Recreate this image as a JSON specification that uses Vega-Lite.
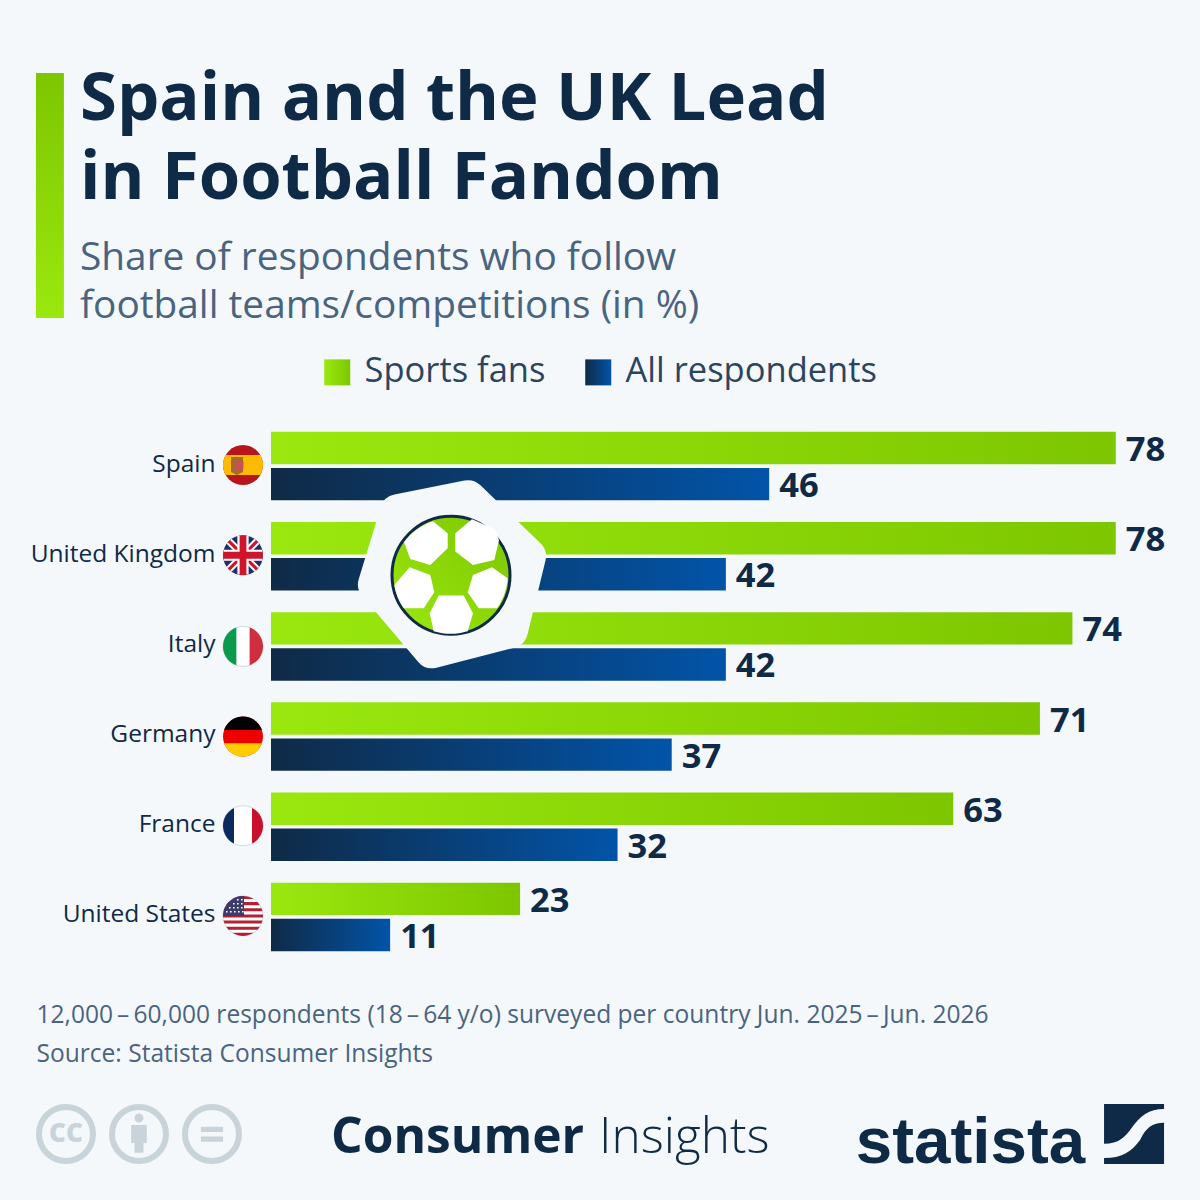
{
  "$schema": "https://vega.github.io/schema/vega-lite/v6.json",
  "description": "Spain and the UK lead in football fandom",
  "width": 929,
  "height": 541,
  "autosize": "none",
  "padding": {"left": 271, "top": 421, "right": 0, "bottom": 238},
  "background": "#f5f8fb",
  "config": {"view": {"stroke": null}, "font": "Open Sans"},
  "title": {
    "text": ["Spain and the UK Lead", "in Football Fandom"],
    "subtitle": ["Share of respondents who follow", "football teams/competitions (in %)"],
    "anchor": "start",
    "frame": "group",
    "dx": -191,
    "dy": 254,
    "offset": 0,
    "font": "Open Sans",
    "fontSize": 67,
    "fontWeight": 700,
    "lineHeight": 79,
    "color": "#0f2a46",
    "subtitleFont": "Open Sans",
    "subtitleFontSize": 38.8,
    "subtitleLineHeight": 48,
    "subtitleColor": "#4a6480",
    "subtitlePadding": 26
  },
  "layer": [
    {
      "data": {
        "values": [
          {"country": "Spain", "group": "Sports fans", "value": 78},
          {"country": "Spain", "group": "All respondents", "value": 46},
          {"country": "United Kingdom", "group": "Sports fans", "value": 78},
          {"country": "United Kingdom", "group": "All respondents", "value": 42},
          {"country": "Italy", "group": "Sports fans", "value": 74},
          {"country": "Italy", "group": "All respondents", "value": 42},
          {"country": "Germany", "group": "Sports fans", "value": 71},
          {"country": "Germany", "group": "All respondents", "value": 37},
          {"country": "France", "group": "Sports fans", "value": 63},
          {"country": "France", "group": "All respondents", "value": 32},
          {"country": "United States", "group": "Sports fans", "value": 23},
          {"country": "United States", "group": "All respondents", "value": 11}
        ]
      },
      "encoding": {
        "y": {
          "field": "country",
          "type": "nominal",
          "sort": null,
          "scale": {"domain": ["Spain", "United Kingdom", "Italy", "Germany", "France", "United States"], "paddingInner": 0.24, "paddingOuter": 0.12},
          "axis": {"title": null, "domain": false, "ticks": false, "labelFontSize": 24.5, "labelColor": "#0f2a46", "labelPadding": 56, "labelOffset": -1.5, "labelFont": "Open Sans", "labelLimit": 300}
        },
        "yOffset": {
          "field": "group",
          "type": "nominal",
          "scale": {"domain": ["Sports fans", "All respondents"], "paddingInner": 0.1, "paddingOuter": 0}
        },
        "x": {
          "field": "value",
          "type": "quantitative",
          "scale": {"domain": [0, 85.78], "nice": false},
          "axis": {
            "title": ["12,000\u2009\u2013\u200960,000 respondents (18\u2009\u2013\u200964 y/o) surveyed per country Jun. 2025\u2009\u2013\u2009Jun. 2026", "Source: Statista Consumer Insights"],
            "labels": false,
            "ticks": false,
            "domain": false,
            "grid": false,
            "titleAnchor": "start",
            "titleAlign": "left",
            "titleBaseline": "top",
            "titleX": -235,
            "titleY": 41,
            "titleFont": "Open Sans",
            "titleFontSize": 24.55,
            "titleFontWeight": 400,
            "titleColor": "#4a6480",
            "titleLineHeight": 39
          }
        }
      },
      "layer": [
        {
          "mark": {"type": "point", "opacity": 0, "filled": true},
          "encoding": {
            "shape": {
              "field": "group",
              "type": "nominal",
              "scale": {"domain": ["Sports fans", "All respondents"], "range": ["square", "square"]},
              "legend": {
                "title": null,
                "orient": "none",
                "legendX": 49,
                "legendY": -66,
                "direction": "horizontal",
                "columns": 2,
                "symbolSize": 676,
                "labelFont": "Open Sans",
                "labelFontSize": 34.5,
                "labelColor": "#2b4560",
                "labelOffset": 10,
                "labelLimit": 300,
                "columnPadding": 35,
                "encoding": {
                  "symbols": {
                    "opacity": {"value": 1},
                    "strokeWidth": {"value": 0},
                    "fill": {
                      "condition": {
                        "test": "datum.value === 'Sports fans'",
                        "value": {"gradient": "linear", "x1": 0, "y1": 0, "x2": 1, "y2": 0, "stops": [{"offset": 0, "color": "#9ae80f"}, {"offset": 1, "color": "#7dc600"}]}
                      },
                      "value": {"gradient": "linear", "x1": 0, "y1": 0, "x2": 1, "y2": 0, "stops": [{"offset": 0, "color": "#0f2a46"}, {"offset": 1, "color": "#0254a8"}]}
                    }
                  }
                }
              }
            }
          }
        },
        {
          "transform": [{"filter": "datum.group === 'Sports fans'"}],
          "mark": {"type": "bar", "color": {"gradient": "linear", "x1": 0, "y1": 0, "x2": 1, "y2": 0, "stops": [{"offset": 0, "color": "#9ae80f"}, {"offset": 1, "color": "#7dc600"}]}}
        },
        {
          "transform": [{"filter": "datum.group === 'All respondents'"}],
          "mark": {"type": "bar", "color": {"gradient": "linear", "x1": 0, "y1": 0, "x2": 1, "y2": 0, "stops": [{"offset": 0, "color": "#0f2a46"}, {"offset": 1, "color": "#0254a8"}]}}
        },
        {
          "mark": {"type": "text", "align": "left", "baseline": "middle", "dx": 10, "dy": 3, "fontSize": 34.5, "fontWeight": 700, "color": "#0f2a46", "font": "Open Sans"},
          "encoding": {"text": {"field": "value", "type": "quantitative"}}
        }
      ]
    },
    {
      "data": {"values": [{"item": "decor"}]},
      "encoding": {"x": {"datum": -20.41, "type": "quantitative"}, "y": {"datum": "Spain", "type": "nominal", "title": null}},
      "mark": {
        "type": "point",
        "shape": "M-.114 -1H.114V1H-.114Z",
        "size": 60025,
        "filled": true,
        "opacity": 1,
        "strokeWidth": 0,
        "yOffset": -270.5,
        "fill": {"gradient": "linear", "x1": 0, "y1": 0, "x2": 0, "y2": 1, "stops": [{"offset": 0, "color": "#7dc600"}, {"offset": 1, "color": "#9ae80f"}]}
      }
    },
    {
      "data": {"values": [{"country": "Spain"}]},
      "encoding": {"x": {"datum": -2.585, "type": "quantitative"}, "y": {"field": "country", "type": "nominal", "title": null}},
      "layer": [
        {"mark": {"type": "point", "shape": "circle", "size": 1600, "filled": true, "opacity": 1, "fill": "#b5151b", "strokeWidth": 0, "yOffset": -1}},
        {"mark": {"type": "point", "shape": "M-.866 -.5L.866 -.5A1 1 0 0 1 .866 .5L-.866 .5A1 1 0 0 1 -.866 -.5Z", "size": 1600, "filled": true, "opacity": 1, "fill": "#fcbb00", "strokeWidth": 0, "yOffset": -1}},
        {"mark": {"type": "point", "shape": "M-.6 -.4H0V.35L-.3 .5L-.6 .35Z", "size": 1600, "filled": true, "opacity": 1, "fill": "#a9682e", "strokeWidth": 0, "yOffset": -1}},
        {"mark": {"type": "point", "shape": "M-.35 -.2H.02V.2H-.35Z", "size": 1600, "filled": true, "opacity": 1, "fill": "#c8505a", "strokeWidth": 0, "yOffset": -1}}
      ]
    },
    {
      "data": {"values": [{"country": "United Kingdom"}]},
      "encoding": {"x": {"datum": -2.585, "type": "quantitative"}, "y": {"field": "country", "type": "nominal", "title": null}},
      "layer": [
        {"mark": {"type": "point", "shape": "circle", "size": 1600, "filled": true, "opacity": 1, "fill": "#1f2f6b", "strokeWidth": 0, "yOffset": -1}},
        {"mark": {"type": "point", "shape": "M-.82 -.57L-.57 -.82L.82 .57L.57 .82ZM.82 -.57L.57 -.82L-.82 .57L-.57 .82Z", "size": 1600, "filled": true, "opacity": 1, "fill": "#ffffff", "strokeWidth": 0, "yOffset": -1}},
        {"mark": {"type": "point", "shape": "M-.76 -.65L-.65 -.76L.76 .65L.65 .76ZM.76 -.65L.65 -.76L-.76 .65L-.65 .76Z", "size": 1600, "filled": true, "opacity": 1, "fill": "#cf142b", "strokeWidth": 0, "yOffset": -1}},
        {"mark": {"type": "point", "shape": "M-.28 -.96L.28 -.96L.28 -.28L.96 -.28L.96 .28L.28 .28L.28 .96L-.28 .96L-.28 .28L-.96 .28L-.96 -.28L-.28 -.28Z", "size": 1600, "filled": true, "opacity": 1, "fill": "#ffffff", "strokeWidth": 0, "yOffset": -1}},
        {"mark": {"type": "point", "shape": "M-.17 -.985L.17 -.985L.17 -.17L.985 -.17L.985 .17L.17 .17L.17 .985L-.17 .985L-.17 .17L-.985 .17L-.985 -.17L-.17 -.17Z", "size": 1600, "filled": true, "opacity": 1, "fill": "#cf142b", "strokeWidth": 0, "yOffset": -1}}
      ]
    },
    {
      "data": {"values": [{"country": "Italy"}]},
      "encoding": {"x": {"datum": -2.585, "type": "quantitative"}, "y": {"field": "country", "type": "nominal", "title": null}},
      "layer": [
        {"mark": {"type": "point", "shape": "circle", "size": 1600, "filled": true, "opacity": 1, "fill": "#ffffff", "stroke": "#d5d9de", "strokeWidth": 1}},
        {"mark": {"type": "point", "shape": "M-.33 -.944A1 1 0 0 0 -.33 .944Z", "size": 1600, "filled": true, "opacity": 1, "fill": "#0a9a4b", "strokeWidth": 0}},
        {"mark": {"type": "point", "shape": "M.33 -.944A1 1 0 0 1 .33 .944Z", "size": 1600, "filled": true, "opacity": 1, "fill": "#cf2e3e", "strokeWidth": 0}}
      ]
    },
    {
      "data": {"values": [{"country": "Germany"}]},
      "encoding": {"x": {"datum": -2.585, "type": "quantitative"}, "y": {"field": "country", "type": "nominal", "title": null}},
      "layer": [
        {"mark": {"type": "point", "shape": "circle", "size": 1600, "filled": true, "opacity": 1, "fill": "#ef0000", "strokeWidth": 0}},
        {"mark": {"type": "point", "shape": "M-.944 -.33A1 1 0 0 1 .944 -.33Z", "size": 1600, "filled": true, "opacity": 1, "fill": "#000000", "strokeWidth": 0}},
        {"mark": {"type": "point", "shape": "M-.944 .33A1 1 0 0 0 .944 .33Z", "size": 1600, "filled": true, "opacity": 1, "fill": "#ffcc00", "strokeWidth": 0}}
      ]
    },
    {
      "data": {"values": [{"country": "France"}]},
      "encoding": {"x": {"datum": -2.585, "type": "quantitative"}, "y": {"field": "country", "type": "nominal", "title": null}},
      "layer": [
        {"mark": {"type": "point", "shape": "circle", "size": 1600, "filled": true, "opacity": 1, "fill": "#ffffff", "stroke": "#d5d9de", "strokeWidth": 1, "yOffset": -1}},
        {"mark": {"type": "point", "shape": "M-.45 -.893A1 1 0 0 0 -.45 .893Z", "size": 1600, "filled": true, "opacity": 1, "fill": "#0b2a5e", "strokeWidth": 0, "yOffset": -1}},
        {"mark": {"type": "point", "shape": "M.45 -.893A1 1 0 0 1 .45 .893Z", "size": 1600, "filled": true, "opacity": 1, "fill": "#c8102e", "strokeWidth": 0, "yOffset": -1}}
      ]
    },
    {
      "data": {"values": [{"country": "United States"}]},
      "encoding": {"x": {"datum": -2.585, "type": "quantitative"}, "y": {"field": "country", "type": "nominal", "title": null}},
      "layer": [
        {"mark": {"type": "point", "shape": "circle", "size": 1600, "filled": true, "opacity": 1, "fill": "#ffffff", "stroke": "#d5d9de", "strokeWidth": 1, "yOffset": -1}},
        {"mark": {"type": "point", "shape": "M-.533 -.846A1 1 0 0 1 .533 -.846ZM-.722 -.692L.722 -.692L.843 -.538L-.843 -.538ZM-.923 -.385L.923 -.385L.973 -.231L-.973 -.231ZM-.997 -.077L.997 -.077L.997 .077L-.997 .077ZM-.973 .231L.973 .231L.923 .385L-.923 .385ZM-.843 .538L.843 .538L.722 .692L-.722 .692ZM-.533 .846A1 1 0 0 0 .533 .846Z", "size": 1600, "filled": true, "opacity": 1, "fill": "#b22234", "strokeWidth": 0, "yOffset": -1}},
        {"mark": {"type": "point", "shape": "M.05 -1L.05 0L-1 0A1 1 0 0 1 .05 -1Z", "size": 1600, "filled": true, "opacity": 1, "fill": "#3c3b6e", "strokeWidth": 0, "yOffset": -1}},
        {"mark": {"type": "point", "shape": "M-.3 -.85h.08v.08h-.08zM-.1 -.85h.08v.08h-.08zM-.5 -.65h.08v.08h-.08zM-.3 -.65h.08v.08h-.08zM-.1 -.65h.08v.08h-.08zM-.7 -.45h.08v.08h-.08zM-.5 -.45h.08v.08h-.08zM-.3 -.45h.08v.08h-.08zM-.1 -.45h.08v.08h-.08zM-.85 -.25h.08v.08h-.08zM-.65 -.25h.08v.08h-.08zM-.45 -.25h.08v.08h-.08zM-.25 -.25h.08v.08h-.08zM-.05 -.25h.08v.08h-.08z", "size": 1600, "filled": true, "opacity": 1, "fill": "#ffffff", "strokeWidth": 0, "yOffset": -1}}
      ]
    },
    {
      "data": {"values": [{"country": "United Kingdom"}]},
      "encoding": {"x": {"datum": 16.62, "type": "quantitative"}, "y": {"field": "country", "type": "nominal", "title": null}},
      "layer": [
        {"mark": {"type": "point", "shape": "M.17 -.77L.77 -.19L.59 .55L-.19 .75L-.75 .09L-.53 -.63Z", "size": 40000, "filled": true, "opacity": 1, "fill": "#f5f8fb", "stroke": "#f5f8fb", "strokeWidth": 36, "strokeJoin": "round", "yOffset": 19}},
        {"mark": {"type": "point", "shape": "circle", "size": 13924, "filled": true, "opacity": 1, "stroke": "#0f2a46", "strokeWidth": 3, "yOffset": 19, "fill": {"gradient": "linear", "x1": 0, "y1": 1, "x2": 1, "y2": 0, "stops": [{"offset": 0, "color": "#9ae80f"}, {"offset": 1, "color": "#7dc600"}]}}},
        {"mark": {"type": "point", "shape": "M-.18 -.54L-.033 -.42L-.033 -.27L-.207 -.103L-.407 -.163L-.47 -.33A.575 .575 0 0 1 -.18 -.54ZM.21 -.56L.44 -.46L.48 -.35L.433 -.153L.22 -.103L.043 -.237L.043 -.42ZM-.413 -.08L-.207 -.003L-.167 .17L-.273 .33L-.473 .33A.575 .575 0 0 1 -.567 .097ZM.41 -.08L.567 .03A.575 .575 0 0 1 .46 .33L.277 .33L.167 .17L.22 -.003ZM-.123 .203L.127 .203L.22 .38L.167 .56A.575 .575 0 0 1 -.173 .56L-.213 .38Z", "size": 40000, "filled": true, "opacity": 1, "fill": "#ffffff", "strokeWidth": 0, "yOffset": 19}}
      ]
    },
    {
      "data": {"values": [{"country": "United States"}]},
      "encoding": {"y": {"field": "country", "type": "nominal", "title": null}},
      "layer": [
        {"encoding": {"x": {"datum": -18.93, "type": "quantitative"}}, "mark": {"type": "point", "shape": "circle", "size": 2916, "filled": false, "opacity": 1, "stroke": "#c8d3da", "strokeWidth": 6, "yOffset": 217}},
        {"encoding": {"x": {"datum": -12.19, "type": "quantitative"}}, "mark": {"type": "point", "shape": "circle", "size": 2916, "filled": false, "opacity": 1, "stroke": "#c8d3da", "strokeWidth": 6, "yOffset": 217}},
        {"encoding": {"x": {"datum": -5.45, "type": "quantitative"}}, "mark": {"type": "point", "shape": "circle", "size": 2916, "filled": false, "opacity": 1, "stroke": "#c8d3da", "strokeWidth": 6, "yOffset": 217}},
        {"encoding": {"x": {"datum": -18.93, "type": "quantitative"}}, "mark": {"type": "text", "text": "CC", "align": "center", "baseline": "middle", "fontSize": 26, "fontWeight": 800, "color": "#c8d3da", "font": "Open Sans", "yOffset": 217}},
        {"encoding": {"x": {"datum": -12.19, "type": "quantitative"}}, "mark": {"type": "point", "shape": "M-.15 -.53a.15 .15 0 1 0 .3 0a.15 .15 0 1 0 -.3 0ZM-.26 -.3H.26V.3H.15V.63H-.15V.3H-.26Z", "size": 3600, "filled": true, "opacity": 1, "fill": "#c8d3da", "strokeWidth": 0, "yOffset": 217}},
        {"encoding": {"x": {"datum": -5.45, "type": "quantitative"}}, "mark": {"type": "point", "shape": "M-.37 -.24H.37V-.06H-.37ZM-.37 .09H.37V.26H-.37Z", "size": 3600, "filled": true, "opacity": 1, "fill": "#c8d3da", "strokeWidth": 0, "yOffset": 217}},
        {"encoding": {"x": {"datum": 5.54, "type": "quantitative"}}, "mark": {"type": "text", "text": "Consumer", "align": "left", "baseline": "alphabetic", "fontSize": 49.7, "fontWeight": 700, "color": "#0f2a46", "font": "Open Sans", "yOffset": 236}},
        {"encoding": {"x": {"datum": 30.29, "type": "quantitative"}}, "mark": {"type": "text", "text": "Insights", "align": "left", "baseline": "alphabetic", "fontSize": 49.5, "fontWeight": 300, "color": "#0f2a46", "font": "Open Sans", "yOffset": 236}},
        {"encoding": {"x": {"datum": 54.0, "type": "quantitative"}}, "mark": {"type": "text", "text": "statista", "align": "left", "baseline": "alphabetic", "fontSize": 65.5, "fontWeight": 700, "color": "#0f2a46", "font": "Liberation Sans", "yOffset": 246}},
        {"encoding": {"x": {"datum": 79.69, "type": "quantitative"}}, "mark": {"type": "point", "shape": "M-1 -1H1V-.83C.5 -.83 .2 -.6 -.1 -.17C-.3 .1 -.5 .33 -1 .33ZM1 -.37C.6 -.37 .4 -.2 .2 .2C-.1 .6 -.4 .8 -1 .8V1H1Z", "size": 3600, "filled": true, "opacity": 1, "fill": "#0f2a46", "strokeWidth": 0, "yOffset": 217}}
      ]
    }
  ]
}
